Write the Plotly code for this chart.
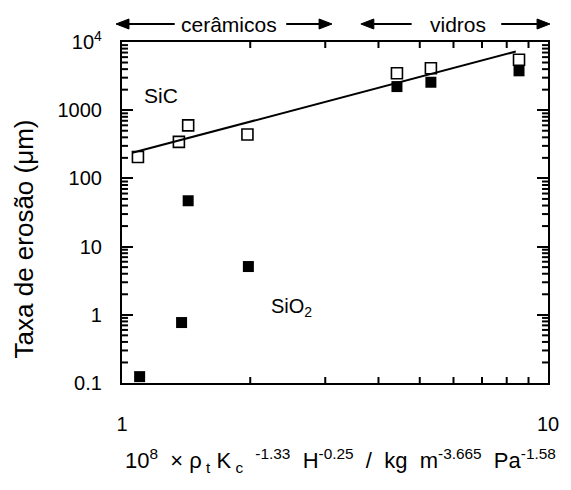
import numpy as np
import plotly.graph_objects as go

# Erosion rate vs. combined material parameter (log-log)
sic_x = [1.09, 1.36, 1.43, 1.97, 4.42, 5.31, 8.55]
sic_y = [206, 343, 600, 440, 3490, 4130, 5480]

sio2_x = [1.10, 1.38, 1.43, 1.98, 4.42, 5.31, 8.55]
sio2_y = [0.124, 0.77, 47, 5.1, 2220, 2570, 3780]

fit_x_range = [1.057, 8.4]

x_range_log = [0, 1]
y_range_log = [-1, 4]
y_tickvals = [0.1, 1, 10, 100, 1000, 10000]
y_ticktext = ["0.1", "1", "10", "100", "1000", "10<sup>4</sup>"]
x_tickvals = [1, 10]
x_ticktext = ["1", "10"]

# power-law fit through the SiC points
slope, intercept = np.polyfit(np.log10(sic_x), np.log10(sic_y), 1)
fit_x = np.logspace(np.log10(fit_x_range[0]), np.log10(fit_x_range[1]), 50)
fit_y = 10 ** (intercept + slope * np.log10(fit_x))

FONT = "Liberation Sans, Arial, sans-serif"

fig = go.Figure()
fig.add_trace(go.Scatter(x=fit_x, y=fit_y, mode="lines",
                         line=dict(color="black", width=2), hoverinfo="skip"))
fig.add_trace(go.Scatter(x=sic_x, y=sic_y, mode="markers", name="SiC",
                         marker=dict(symbol="square-open", size=11, color="black",
                                     line=dict(width=1.6, color="black"))))
fig.add_trace(go.Scatter(x=sio2_x, y=sio2_y, mode="markers", name="SiO2",
                         marker=dict(symbol="square", size=11, color="black")))

L, R, T, B = 122, 550, 42, 383
W, H = 571, 490
pw, ph = R - L, B - T


def px(x):
    return (x - L) / pw


def py(y):
    return (B - y) / ph


def frac_x(v):
    return (np.log10(v) - x_range_log[0]) / (x_range_log[1] - x_range_log[0])


def frac_y(v):
    return (np.log10(v) - y_range_log[0]) / (y_range_log[1] - y_range_log[0])


axis_common = dict(
    type="log", showgrid=False, zeroline=False, showline=True, linecolor="black",
    linewidth=2.2, mirror="ticks", ticks="inside", ticklen=11, tickwidth=2,
    tickcolor="black", tickfont=dict(family=FONT, size=20, color="black"),
)

fig.update_xaxes(range=x_range_log, tickvals=x_tickvals, ticktext=x_ticktext,
                 ticklabelstandoff=22, **axis_common)
fig.update_yaxes(range=y_range_log, tickvals=y_tickvals, ticktext=y_ticktext,
                 ticklabelstandoff=14, **axis_common)

shapes = []
tick_line = dict(color="black", width=2)

# minor ticks (2..9 within each decade) on all four sides
minor_len = 6
for m in range(2, 10):
    fx = float(frac_x(m))
    for y0, y1 in [(0, minor_len / ph), (1, 1 - minor_len / ph)]:
        shapes.append(dict(type="line", xref="paper", yref="paper", x0=fx, x1=fx,
                           y0=y0, y1=y1, line=tick_line, layer="above"))
for dec in range(y_range_log[0], y_range_log[1]):
    for m in range(2, 10):
        fy = float(frac_y(m * 10.0 ** dec))
        for x0, x1 in [(0, minor_len / pw), (1, 1 - minor_len / pw)]:
            shapes.append(dict(type="line", xref="paper", yref="paper", x0=x0, x1=x1,
                               y0=fy, y1=fy, line=tick_line, layer="above"))

# region arrows above the plot
arrow_y = 24
head_len, head_half = 13, 5
for head, tail in [(116, 175), (333, 287), (362, 413), (552, 503)]:
    d = 1 if head > tail else -1
    base = head - d * head_len
    shapes.append(dict(type="line", xref="paper", yref="paper",
                       x0=px(tail), x1=px(base), y0=py(arrow_y), y1=py(arrow_y),
                       line=dict(color="black", width=1.8)))
    path = "M {:.5f} {:.5f} L {:.5f} {:.5f} L {:.5f} {:.5f} Z".format(
        px(head), py(arrow_y), px(base), py(arrow_y - head_half),
        px(base), py(arrow_y + head_half))
    shapes.append(dict(type="path", xref="paper", yref="paper", path=path,
                       fillcolor="black", line=dict(color="black", width=1)))

ann = []
# series labels
ann.append(dict(x=np.log10(1.235), y=np.log10(1650), xref="x", yref="y", text="SiC",
                showarrow=False, font=dict(family=FONT, size=21, color="black")))
ann.append(dict(x=np.log10(2.5), y=np.log10(1.3), xref="x", yref="y", text="SiO<sub>2</sub>",
                showarrow=False, font=dict(family=FONT, size=20, color="black")))

# axis titles
ann.append(dict(x=px(24), y=py(239), xref="paper", yref="paper", text="Taxa de erosão (μm)",
                textangle=-90, showarrow=False, xanchor="center", yanchor="middle",
                font=dict(family=FONT, size=26, color="black")))
ann.append(dict(x=px(342), y=py(460), xref="paper", yref="paper",
                text="10<sup>8</sup>  × ρ<sub> t</sub> K<sub> c</sub>  <sup>-1.33</sup>  H<sup>-0.25</sup>  /  kg  m<sup>-3.665</sup>  Pa<sup>-1.58</sup>",
                showarrow=False, xanchor="center", yanchor="middle",
                font=dict(family=FONT, size=22, color="black")))

# region labels
for label, cx in [("cerâmicos", 230), ("vidros", 460)]:
    ann.append(dict(x=px(cx), y=py(arrow_y), xref="paper", yref="paper", text=label,
                    showarrow=False, xanchor="center", yanchor="middle",
                    font=dict(family=FONT, size=21, color="black")))

fig.update_layout(
    width=W, height=H, showlegend=False,
    margin=dict(l=L, r=W - R, t=T, b=H - B),
    paper_bgcolor="white", plot_bgcolor="white",
    annotations=ann, shapes=shapes,
)

fig.write_html("out.html")
